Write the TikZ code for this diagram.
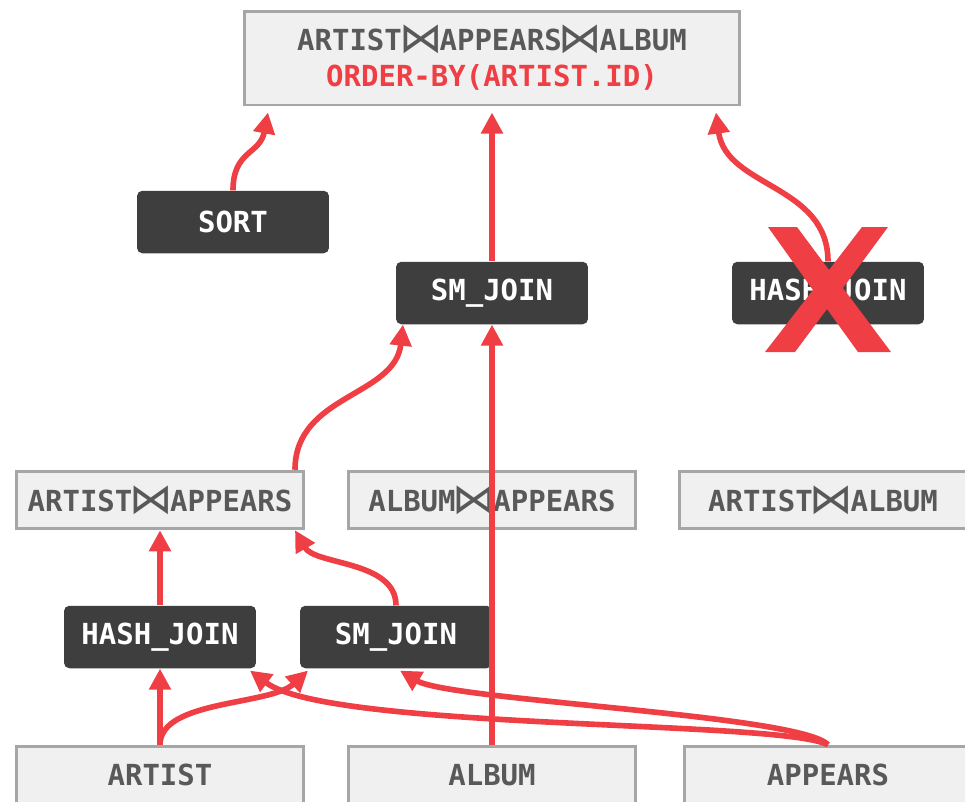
\documentclass[tikz,border=0pt]{standalone}
\usepackage{fontspec}
\setmonofont{DejaVu Sans Mono}
\newfontfamily\symbfont{DejaVu Sans}
\usetikzlibrary{arrows.meta,calc}
\definecolor{penRed}{RGB}{239,62,68}
\definecolor{boxDark}{RGB}{62,62,62}
\definecolor{boxLight}{RGB}{240,240,240}
\definecolor{boxLine}{RGB}{166,166,166}
\definecolor{textGray}{RGB}{89,89,89}
\newcommand{\jn}{\makebox[21.5pt]{\raisebox{-1.2pt}{\scalebox{1.5}[1.45]{\symbfont\mdseries ⋈}}}}
\tikzset{>={Triangle[length=12pt,width=12pt]}}
\tikzset{
  op/.style={fill=boxDark, rounded corners=3pt, text=white,
    font=\ttfamily\bfseries\fontsize{16.5}{20.5}\selectfont,
    minimum width=3.84cm, minimum height=1.25cm, inner sep=0pt},
  rel/.style={fill=boxLight, draw=boxLine, line width=1.7pt, text=textGray,
    font=\ttfamily\bfseries\fontsize{16.5}{20.5}\selectfont,
    minimum width=5.75cm, minimum height=1.15cm, inner sep=0pt},
  flow/.style={->, penRed, line width=3.2pt},
}

\begin{document}
\begin{tikzpicture}[x=0.02cm, y=-0.02cm]
\clip (0,0) rectangle (965,802);
\useasboundingbox (0,0) rectangle (965,802);
% plans
\node[rel, minimum width=9.9cm, minimum height=1.88cm, align=center] (goal) at (492,58)
  {\rule{0pt}{8pt}ARTIST\jn APPEARS\jn ALBUM\\\textcolor{penRed}{ORDER-BY(ARTIST.ID)}};
\node[op] (sort) at (233,222) {SORT};
\node[op] (smjTop) at (492,293) {SM\_JOIN};
\node[op] (hjTop) at (828,293) {HASH\_JOIN};
\node[rel] (artApp) at (160,500) {ARTIST\jn APPEARS};
\node[rel] (albApp) at (492,500) {ALBUM\jn APPEARS};
\node[rel] (artAlb) at (823,500) {ARTIST\jn ALBUM};
\node[op] (hjBot) at (160,637) {HASH\_JOIN};
\node[op] (smjBot) at (396,637) {SM\_JOIN};
\node[rel] (artist) at (160,775) {ARTIST};
\node[rel] (album) at (492,775) {ALBUM};
\node[rel] (appears) at (828,775) {APPEARS};
% upper arrows
\draw[flow] (sort.north) .. controls +(0,-40) and +(-8,42) .. ($(goal.south)+(-224,6)$);
\draw[flow] (smjTop.north) -- ($(goal.south)+(0,6)$);
\draw[flow] (hjTop.north) .. controls +(0,-77) and +(10,75) .. ($(goal.south)+(224,6)$);
\draw[flow] ($(artApp.north)+(135,0)$) .. controls +(0,-75) and +(-8,72) .. ($(smjTop.south)+(-89,0)$);
% lower arrows
\draw[flow] (hjBot.north) -- (artApp.south);
\draw[flow] (smjBot.north) .. controls +(0,-45) and +(20,35) .. ($(artApp.south)+(135,0)$);
\draw[flow] (artist.north) -- (hjBot.south);
\draw[flow] (artist.north) .. controls +(0,-45) and +(-38,35) .. ($(smjBot.south)+(-88,2)$);
\draw[flow] (album.north) -- (smjTop.south);
\draw[flow] (appears.north) .. controls +(-48,-25) and +(80,60) .. ($(hjBot.south)+(90,2)$);
\draw[flow] (appears.north) .. controls +(-28,-30) and +(50,30) .. ($(smjBot.south)+(4,2)$);
% pruned
\fill[penRed] (768,227) -- (797,227) -- (829,270) -- (862,227) -- (888,227) -- (843,288)
  -- (891,352) -- (858,352) -- (827,309) -- (795,352) -- (765,352) -- (813,290) -- cycle;
\end{tikzpicture}
\end{document}
